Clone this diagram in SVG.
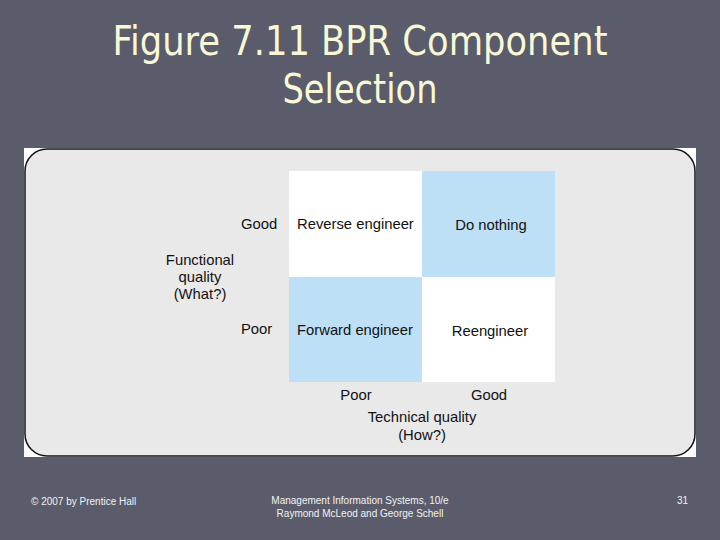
<svg xmlns="http://www.w3.org/2000/svg" width="720" height="540" viewBox="0 0 720 540">
<style>
.t{font-family:"Liberation Sans",Arial,sans-serif;fill:#111}
.m{font-size:14.8px}
.title{font-family:"DejaVu Sans Condensed","DejaVu Sans",sans-serif;font-size:40px;fill:#f8f8d6;text-anchor:middle}
.foot{font-family:"Liberation Sans",Arial,sans-serif;font-size:10px;fill:#f2f2f2}
.blue{fill:#bde0f6}
.white{fill:#ffffff}
</style>
<rect width="720" height="540" fill="#5a5c6b"/>
<g id="title">
<text class="title" x="360" y="55" textLength="495" lengthAdjust="spacingAndGlyphs">Figure 7.11 BPR Component</text>
<text class="title" x="360" y="103" textLength="155" lengthAdjust="spacingAndGlyphs">Selection</text>
</g>
<g id="panel">
<rect x="24" y="148" width="672" height="309" fill="#ffffff"/>
<rect x="25" y="149" width="670" height="307" rx="22" ry="22" fill="#e9e9e9" stroke="#111" stroke-width="1.5"/>
</g>
<g id="cell-reverse">
<rect class="white" x="289" y="171" width="133" height="106"/>
<text class="t m" x="297" y="229">Reverse engineer</text>
</g>
<g id="cell-donothing">
<rect class="blue" x="422" y="171" width="133" height="106"/>
<text class="t m" x="491" y="230" text-anchor="middle">Do nothing</text>
</g>
<g id="cell-forward">
<rect class="blue" x="289" y="277" width="133" height="105"/>
<text class="t m" x="297" y="335">Forward engineer</text>
</g>
<g id="cell-reengineer">
<rect class="white" x="422" y="277" width="133" height="105"/>
<text class="t m" x="490" y="336" text-anchor="middle">Reengineer</text>
</g>
<g id="axis-labels">
<text class="t m" x="241" y="229">Good</text>
<text class="t m" x="241" y="334">Poor</text>
<text class="t m" x="200" y="265" text-anchor="middle">Functional</text>
<text class="t m" x="200" y="282" text-anchor="middle">quality</text>
<text class="t m" x="200" y="299" text-anchor="middle">(What?)</text>
<text class="t m" x="356" y="400" text-anchor="middle">Poor</text>
<text class="t m" x="489" y="400" text-anchor="middle">Good</text>
<text class="t m" x="422" y="422" text-anchor="middle">Technical quality</text>
<text class="t m" x="422" y="440" text-anchor="middle">(How?)</text>
</g>
<g id="footer">
<text class="foot" x="31" y="505">© 2007 by Prentice Hall</text>
<text class="foot" x="360" y="504" text-anchor="middle">Management Information Systems, 10/e</text>
<text class="foot" x="360" y="517" text-anchor="middle">Raymond McLeod and George Schell</text>
<text class="foot" x="677" y="504">31</text>
</g>
</svg>
